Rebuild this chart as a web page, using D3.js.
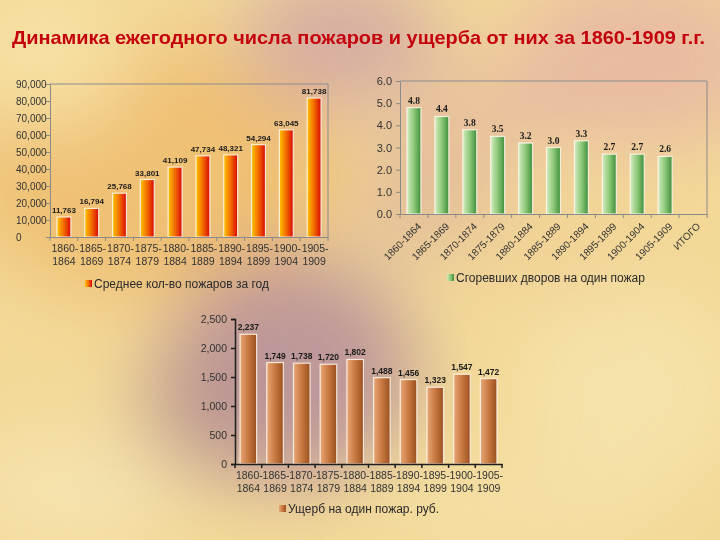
<!DOCTYPE html>
<html><head><meta charset="utf-8">
<script src="https://cdn.jsdelivr.net/npm/d3@7"></script>
<style>body{margin:0;background:#f3dc9a}svg{display:block}</style></head>
<body>
<script>
const titleText = "Динамика ежегодного числа пожаров и ущерба от них за 1860-1909 г.г.";
const periods = ["1860-1864","1865-1869","1870-1874","1875-1879","1880-1884","1885-1889","1890-1894","1895-1899","1900-1904","1905-1909"];
const firesPerYear = [11763,16794,25768,33801,41109,47734,48321,54294,63045,81738];
const firesTicks = [0,10000,20000,30000,40000,50000,60000,70000,80000,90000];
const firesLegend = "Среднее кол-во пожаров за год";
const yardsCategories = ["1860-1864","1865-1869","1870-1874","1875-1879","1880-1884","1885-1889","1890-1894","1895-1899","1900-1904","1905-1909","ИТОГО"];
const yardsPerFire = [4.8,4.4,3.8,3.5,3.2,3.0,3.3,2.7,2.7,2.6,null];
const yardsTicks = [0,1,2,3,4,5,6];
const yardsLegend = "Сгоревших дворов на один пожар";
const damagePerFire = [2237,1749,1738,1720,1802,1488,1456,1323,1547,1472];
const damageTicks = [0,500,1000,1500,2000,2500];
const damageLegend = "Ущерб на один пожар. руб.";

const W = 720, H = 540;
const svg = d3.select("body").append("svg").attr("width", W).attr("height", H);
const defs = svg.append("defs");

// background
const blur = defs.append("filter").attr("id","blur").attr("x","-50%").attr("y","-50%").attr("width","200%").attr("height","200%");
blur.append("feGaussianBlur").attr("stdDeviation", 38);
svg.append("rect").attr("width", W).attr("height", H).attr("fill", "#f3d998");
const bg = svg.append("g").attr("filter","url(#blur)");
const blobs = [
  [150,170,190,130,"#eeba6c",0.8],
  [50,60,80,70,"#f6e2a6",0.9],
  [290,370,125,115,"#b08898",0.8],
  [190,420,60,70,"#b89088",0.55],
  [340,40,100,70,"#c696a8",0.65],
  [480,120,80,60,"#e2b2a0",0.55],
  [640,60,130,90,"#e2a8a8",0.6],
  [420,200,70,60,"#d4a69c",0.5],
  [70,490,110,60,"#f6e4b0",0.85],
  [630,390,110,100,"#f6e4ac",0.85],
  [560,250,90,50,"#f0cc94",0.5],
  [520,505,150,45,"#f4e0a8",0.75]
];
blobs.forEach(b => bg.append("ellipse").attr("cx",b[0]).attr("cy",b[1]).attr("rx",b[2]).attr("ry",b[3]).attr("fill",b[4]).attr("opacity",b[5]));

// title
svg.append("text").attr("x", 12).attr("y", 44).text(titleText)
  .attr("font-family","Liberation Sans, Arial, sans-serif").attr("font-weight","bold")
  .attr("font-size", 18.5).attr("fill","#c4000c")
  .attr("textLength", 693).attr("lengthAdjust","spacingAndGlyphs");

function grad(id, c1, c2, c3) {
  const g = defs.append("linearGradient").attr("id", id).attr("x1","0").attr("x2","1").attr("y1","0").attr("y2","0");
  g.append("stop").attr("offset","0%").attr("stop-color", c1);
  g.append("stop").attr("offset","50%").attr("stop-color", c2);
  g.append("stop").attr("offset","100%").attr("stop-color", c3);
}
grad("gRed", "#ffc400", "#f26a00", "#d80800");
grad("gGreen", "#d4ecc0", "#8cc878", "#3f8e3c");
grad("gBrown", "#e8a878", "#c87840", "#9a5020");

const FONT = "Liberation Sans, Arial, sans-serif";

function drawChart(o) {
  const g = svg.append("g");
  const x = d3.scaleBand().domain(o.cats).range([o.x0, o.x1]).paddingInner(0).paddingOuter(0);
  const y = d3.scaleLinear().domain([0, o.ymax]).range([o.y0, o.y1]);
  const bw = x.bandwidth() * o.barFrac;

  if (o.frame) {
    g.append("path").attr("d", `M${o.x0},${o.y1}H${o.x1}V${o.y0}`).attr("fill","none").attr("stroke","#8c8c8c").attr("stroke-width",1);
  }
  const data = o.cats.map((c,i) => ({c, v: o.values[i]})).filter(d => d.v != null);
  g.selectAll("rect.bar").data(data).enter().append("rect")
    .attr("x", d => x(d.c) + (x.bandwidth() - bw)/2)
    .attr("y", d => y(d.v))
    .attr("width", bw)
    .attr("height", d => o.y0 - y(d.v))
    .attr("fill", `url(#${o.grad})`)
    .attr("stroke", "#fff8ec").attr("stroke-opacity", 0.85).attr("stroke-width", 1.2);
  g.selectAll("text.val").data(data).enter().append("text")
    .attr("x", d => x(d.c) + x.bandwidth()/2)
    .attr("y", d => y(d.v) - 4)
    .attr("text-anchor","middle")
    .attr("font-family", o.valFont || FONT).attr("font-weight","bold").attr("font-size", o.valSize || 8.5)
    .attr("fill","#1a1a1a")
    .text(d => o.valFmt(d.v));
  const ya = d3.axisLeft(y).tickValues(o.ticks).tickFormat(o.tickFmt).tickSize(4).tickPadding(4);
  const yg = g.append("g").attr("transform", `translate(${o.x0},0)`).call(ya);
  yg.select(".domain").attr("stroke", o.axisColor).attr("stroke-width", o.axisW);
  yg.selectAll(".tick line").attr("stroke", o.axisColor).attr("stroke-width", o.axisW);
  yg.selectAll(".tick text").attr("font-family", FONT).attr("font-size", o.yFont || 11).attr("fill","#333");
  if (o.yLabelLeft != null) {
    yg.selectAll(".tick text").attr("text-anchor","start").attr("x", o.yLabelLeft - o.x0);
  }
  const xa = d3.axisBottom(x).tickSize(0).tickFormat("");
  const xg = g.append("g").attr("transform", `translate(0,${o.y0})`).call(xa);
  xg.select(".domain").attr("stroke", o.axisColor).attr("stroke-width", o.axisW);
  const bounds = o.cats.map(c => x(c)).concat([o.x1]);
  g.selectAll("line.bt").data(bounds).enter().append("line")
    .attr("x1", d => d).attr("x2", d => d).attr("y1", o.y0).attr("y2", o.y0 + 4)
    .attr("stroke", o.axisColor).attr("stroke-width", o.axisW);
  if (o.rotate) {
    g.selectAll("text.xl").data(o.cats).enter().append("text")
      .attr("transform", c => `translate(${x(c) + x.bandwidth()/2 + 3},${o.y0 + 8}) rotate(-45)`)
      .attr("text-anchor","end").attr("dy","0.7em")
      .attr("font-family", FONT).attr("font-size", 10).attr("fill","#333")
      .text(c => c);
  } else {
    const xl = g.selectAll("text.xl").data(o.cats).enter().append("text")
      .attr("text-anchor","middle")
      .attr("font-family", FONT).attr("font-size", 10.5).attr("fill","#333");
    xl.append("tspan").attr("x", c => x(c) + x.bandwidth()/2 + 1).attr("y", o.y0 + 15).text(c => c.split("-")[0] + "-");
    xl.append("tspan").attr("x", c => x(c) + x.bandwidth()/2).attr("y", o.y0 + 28).text(c => c.split("-")[1]);
  }
  g.append("rect").attr("x", o.legX).attr("y", o.legY - 8).attr("width", 7).attr("height", 7).attr("fill", `url(#${o.grad})`);
  g.append("text").attr("x", o.legX + 9).attr("y", o.legY).attr("font-family", FONT).attr("font-size", 12).attr("fill","#2a2a2a").text(o.legend);
}

drawChart({
  cats: periods, values: firesPerYear, ticks: firesTicks, ymax: 90000,
  x0: 50, x1: 328, y0: 237, y1: 84, barFrac: 0.5,
  grad: "gRed", frame: true, axisColor: "#8a8a8a", axisW: 1,
  tickFmt: d3.format(","), valFmt: d3.format(","), yLabelLeft: 16, yFont: 10,
  valSize: 8,
  legend: firesLegend, legX: 85, legY: 288
});

drawChart({
  cats: yardsCategories, values: yardsPerFire, ticks: yardsTicks, ymax: 6,
  x0: 400, x1: 707, y0: 214, y1: 81, barFrac: 0.5,
  grad: "gGreen", frame: true, axisColor: "#8a8a8a", axisW: 1,
  tickFmt: d3.format(".1f"), valFmt: d3.format(".1f"),
  valFont: "Liberation Serif, Times New Roman, serif", valSize: 9.5,
  rotate: true,
  legend: yardsLegend, legX: 447, legY: 282
});

drawChart({
  cats: periods, values: damagePerFire, ticks: damageTicks, ymax: 2500,
  x0: 235, x1: 502, y0: 464, y1: 319, barFrac: 0.62,
  grad: "gBrown", frame: false, axisColor: "#1e1e1e", axisW: 1.5,
  tickFmt: d3.format(","), valFmt: d3.format(","), yFont: 10.5,
  legend: damageLegend, legX: 279, legY: 513
});
</script>
</body></html>
